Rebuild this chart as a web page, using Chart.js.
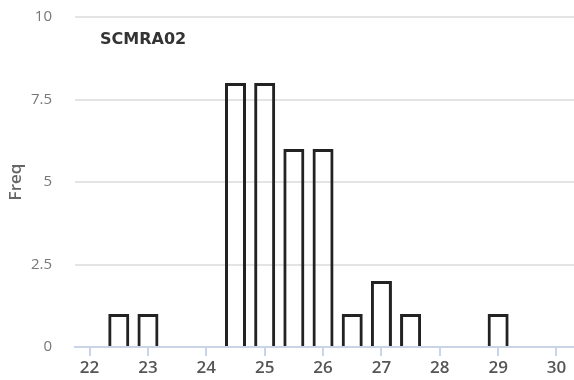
<!DOCTYPE html>
<html>
<head>
<meta charset="utf-8">
<script src="https://cdn.jsdelivr.net/npm/chart.js@4/dist/chart.umd.min.js"></script>
<style>
  html, body { margin: 0; padding: 0; background: #fff; }
  #wrap { width: 574px; height: 380px; }
</style>
</head>
<body>
<div id="wrap"><canvas id="histChart"></canvas></div>
<script>
var binCenters = [22.5, 23, 24.5, 25, 25.5, 26, 26.5, 27, 27.5, 29];
var freqs = [1, 1, 8, 8, 6, 6, 1, 2, 1, 1];
var panelTitle = 'SCMRA02';
var yTitle = 'Freq';

var points = binCenters.map(function (c, i) { return { x: c, y: freqs[i] }; });

// draws the panel name inside the plot area, top left
var panelLabel = {
    id: 'panelLabel',
    afterDraw: function (chart) {
        var ctx = chart.ctx;
        ctx.save();
        ctx.font = 'bold 16px "DejaVu Sans"';
        ctx.fillStyle = '#333';
        ctx.textBaseline = 'middle';
        ctx.textAlign = 'left';
        ctx.fillText(panelTitle, 100, 40);
        ctx.restore();
    }
};

var ctx = document.getElementById('histChart').getContext('2d');
var histChart = new Chart(ctx, {
    type: 'bar',
    data: {
        datasets: [{
            label: panelTitle,
            data: points,
            backgroundColor: 'rgba(0,0,0,0)',
            borderColor: '#222',
            borderWidth: 3
        }]
    },
    options: {
        responsive: true,
        maintainAspectRatio: false,
        animation: false,
        layout: { padding: { left: 2, top: 17, right: 0, bottom: 0 } },
        plugins: {
            legend: { display: false },
            title: { display: false },
            tooltip: { enabled: false }
        },
        scales: {
            x: {
                type: 'linear',
                min: 21.75,
                max: 30.3,
                offset: false,
                grid: {
                    offset: false,
                    drawOnChartArea: false,
                    color: '#c9d4e8',
                    lineWidth: 2,
                    tickLength: 9
                },
                border: { color: '#c9d4e8', width: 2 },
                ticks: {
                    stepSize: 1,
                    includeBounds: false,
                    padding: 2,
                    color: '#555',
                    font: { family: 'Open Sans', size: 17, weight: '600' }
                },
                afterFit: function (scale) { scale.height = 33; }
            },
            y: {
                min: 0,
                max: 10,
                grid: { color: '#e4e4e4', lineWidth: 2, drawTicks: false },
                border: { display: false },
                ticks: {
                    stepSize: 2.5,
                    padding: 23,
                    color: '#777',
                    font: { family: 'Open Sans', size: 15 }
                },
                title: {
                    display: true,
                    text: yTitle,
                    color: '#666',
                    font: { family: 'Open Sans', size: 17, weight: '600' },
                    padding: { top: 4, bottom: 4 }
                },
                afterFit: function (scale) {
                    scale.width = 73;
                    scale.paddingTop = 0;
                }
            }
        }
    },
    plugins: [panelLabel]
});
</script>
</body>
</html>
